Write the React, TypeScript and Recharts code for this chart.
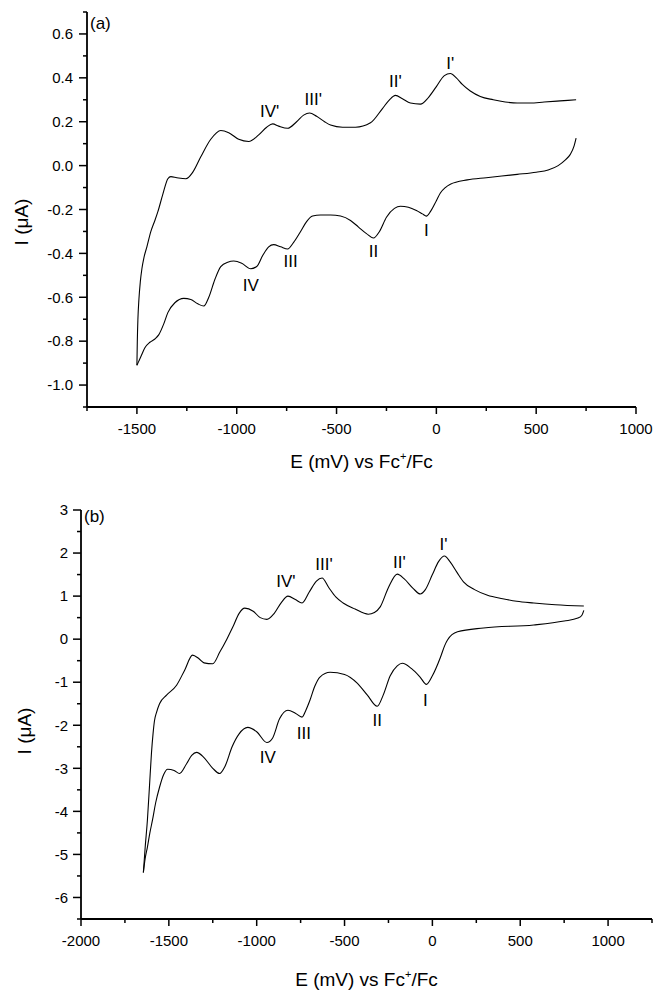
import { LineChart, Line, XAxis, YAxis, ReferenceDot, Label } from 'recharts';

// ---- panel (a) ----
// anodic sweep (upper trace)
const aOxE = [-1500, -1498, -1495, -1490, -1483, -1475, -1465, -1450, -1430, -1410, -1395, -1370, -1345, -1330, -1300, -1255, -1220, -1180, -1130, -1080, -1040, -990, -940, -890, -850, -820, -790, -745, -700, -665, -635, -600, -560, -530, -470, -405, -330, -270, -235, -205, -170, -130, -80, -40, 0, 40, 70, 100, 130, 170, 220, 285, 345, 405, 470, 540, 620, 700];
const aOxI = [-0.91, -0.8, -0.7, -0.61, -0.53, -0.47, -0.42, -0.37, -0.3, -0.25, -0.21, -0.13, -0.06, -0.05, -0.055, -0.06, -0.03, 0.04, 0.12, 0.16, 0.15, 0.12, 0.11, 0.14, 0.175, 0.19, 0.18, 0.17, 0.2, 0.23, 0.24, 0.225, 0.2, 0.185, 0.175, 0.175, 0.195, 0.26, 0.3, 0.32, 0.305, 0.285, 0.28, 0.31, 0.36, 0.41, 0.42, 0.4, 0.37, 0.34, 0.315, 0.3, 0.29, 0.285, 0.285, 0.29, 0.295, 0.3];
// cathodic sweep (lower trace)
const aRedE = [-1500, -1490, -1480, -1460, -1435, -1410, -1390, -1365, -1345, -1310, -1265, -1230, -1195, -1165, -1140, -1110, -1080, -1045, -1015, -975, -930, -900, -870, -840, -815, -780, -745, -715, -680, -650, -620, -580, -530, -480, -430, -390, -350, -315, -285, -250, -210, -180, -140, -100, -70, -50, -30, 0, 20, 45, 70, 155, 250, 405, 500, 560, 610, 645, 670, 690, 700];
const aRedI = [-0.91, -0.89, -0.87, -0.83, -0.805, -0.79, -0.77, -0.72, -0.67, -0.625, -0.605, -0.61, -0.63, -0.64, -0.6, -0.52, -0.46, -0.44, -0.435, -0.445, -0.47, -0.46, -0.41, -0.37, -0.36, -0.37, -0.38, -0.35, -0.3, -0.255, -0.23, -0.225, -0.225, -0.23, -0.25, -0.28, -0.31, -0.33, -0.3, -0.235, -0.195, -0.185, -0.19, -0.205, -0.22, -0.23, -0.21, -0.16, -0.125, -0.1, -0.085, -0.065, -0.055, -0.04, -0.03, -0.02, 0.0, 0.025, 0.05, 0.09, 0.125];

const aXTicks = [-1750, -1500, -1250, -1000, -750, -500, -250, 0, 250, 500, 750, 1000];
const aYTicks = [-1.1, -1.0, -0.9, -0.8, -0.7, -0.6, -0.5, -0.4, -0.3, -0.2, -0.1, 0.0, 0.1, 0.2, 0.3, 0.4, 0.5, 0.6, 0.7];
const aPeaks = ["IV'", "III'", "II'", "I'", 'I', 'II', 'III', 'IV'];
const aPeakE = [-835, -617, -205, 70, -50, -315, -730, -930];
const aPeakI = [0.25, 0.305, 0.386, 0.47, -0.295, -0.39, -0.435, -0.545];

// ---- panel (b) ----
const bOxE = [-1645, -1635, -1622, -1610, -1599, -1590, -1582, -1570, -1553, -1513, -1456, -1410, -1365, -1330, -1300, -1250, -1210, -1170, -1136, -1100, -1068, -1020, -980, -942, -900, -860, -822, -780, -742, -700, -660, -628, -590, -550, -508, -440, -365, -330, -297, -250, -200, -160, -110, -69, -40, 0, 35, 69, 100, 140, 177, 240, 314, 400, 480, 577, 700, 862];
const bOxI = [-5.42, -4.85, -4.2, -3.4, -2.65, -2.2, -1.9, -1.7, -1.5, -1.3, -1.07, -0.72, -0.37, -0.45, -0.55, -0.57, -0.3, 0.0, 0.28, 0.6, 0.72, 0.65, 0.5, 0.46, 0.6, 0.85, 1.0, 0.92, 0.84, 1.1, 1.35, 1.42, 1.2, 0.98, 0.84, 0.7, 0.58, 0.62, 0.75, 1.2, 1.51, 1.4, 1.18, 1.05, 1.15, 1.5, 1.8, 1.93, 1.8, 1.55, 1.33, 1.15, 1.02, 0.94, 0.88, 0.84, 0.8, 0.77];
const bRedE = [-1645, -1635, -1622, -1608, -1593, -1575, -1553, -1530, -1507, -1470, -1439, -1400, -1370, -1342, -1300, -1250, -1211, -1180, -1140, -1100, -1051, -1000, -942, -910, -870, -822, -780, -742, -720, -697, -670, -640, -582, -500, -428, -370, -314, -280, -240, -200, -171, -120, -70, -34, 0, 46, 70, 86, 143, 291, 577, 750, 828, 850, 862];
const bRedI = [-5.42, -5.1, -4.83, -4.5, -4.2, -3.8, -3.44, -3.15, -3.02, -3.05, -3.12, -2.9, -2.7, -2.63, -2.75, -3.0, -3.12, -2.95, -2.5, -2.2, -2.05, -2.15, -2.4, -2.3, -1.85, -1.65, -1.72, -1.81, -1.65, -1.42, -1.1, -0.88, -0.77, -0.82, -1.02, -1.3, -1.56, -1.3, -0.85, -0.62, -0.56, -0.68, -0.88, -1.05, -0.85, -0.42, -0.15, -0.02, 0.17, 0.26, 0.33, 0.42, 0.49, 0.55, 0.67];

const bXTicks = [-2000, -1750, -1500, -1250, -1000, -750, -500, -250, 0, 250, 500, 750, 1000, 1250];
const bYTicks = [-6.5, -6, -5.5, -5, -4.5, -4, -3.5, -3, -2.5, -2, -1.5, -1, -0.5, 0, 0.5, 1, 1.5, 2, 2.5, 3];
const bPeaks = ["IV'", "III'", "II'", "I'", 'I', 'II', 'III', 'IV'];
const bPeakE = [-834, -617, -188, 63, -40, -314, -731, -937];
const bPeakI = [1.35, 1.74, 1.79, 2.21, -1.42, -1.88, -2.19, -2.74];

const zip = (e: number[], i: number[]) => e.map((v, k) => ({ E: v, I: i[k] }));

const XTick = (props: any) => {
  const { x, y, payload } = props;
  const v = payload.value;
  const major = Math.round(v) % 500 === 0;
  return (
    <g>
      <line x1={x} y1={y} x2={x} y2={y + (major ? 7 : 4)} stroke="#000" strokeWidth={1.5} />
      {major && (
        <text x={x} y={y + 27} textAnchor="middle" fontSize={15} fill="#000">
          {v}
        </text>
      )}
    </g>
  );
};

const YTick = (props: any) => {
  const { x, y, payload, isMajor, fmt, gap } = props;
  const v = payload.value;
  const major = isMajor(v);
  return (
    <g>
      <line x1={x - (major ? 8 : 4)} y1={y} x2={x} y2={y} stroke="#000" strokeWidth={1.5} />
      {major && (
        <text x={x - gap} y={y} dy="0.35em" textAnchor="end" fontSize={15} fill="#000">
          {fmt(v)}
        </text>
      )}
    </g>
  );
};

const XTitle = ({ viewBox, dy }: any) => (
  <text x={viewBox.x + viewBox.width / 2} y={viewBox.y + dy} textAnchor="middle" fontSize={19} fill="#000">
    E (mV) vs Fc
    <tspan fontSize={11} dy={-8}>+</tspan>
    <tspan dy={8}>/Fc</tspan>
  </text>
);

const YTitle = ({ cx, cy }: any) => (
  <text x={cx} y={cy} transform={`rotate(-90, ${cx}, ${cy})`} textAnchor="middle" dominantBaseline="central" fontSize={19} fill="#000">
    I (μA)
  </text>
);

const axisStyle = { stroke: '#000', strokeWidth: 1.8 };

function Panel(props: any) {
  const { ox, red, xDomain, yDomain, xTicks, yTicks, isMajor, fmt, gap, peaks, peakE, peakI, width, height, margin, yWidth, xHeight, xTitleDy, yTitleX, yTitleY } = props;
  return (
    <LineChart width={width} height={height} margin={margin}>
      <XAxis
        dataKey="E"
        type="number"
        domain={xDomain}
        ticks={xTicks}
        interval={0}
        allowDataOverflow
        height={xHeight}
        tickSize={0}
        tickMargin={0}
        tickLine={false}
        axisLine={axisStyle}
        tick={<XTick />}
      >
        <Label content={(p: any) => <XTitle viewBox={p.viewBox} dy={xTitleDy} />} />
      </XAxis>
      <YAxis
        type="number"
        domain={yDomain}
        ticks={yTicks}
        interval={0}
        allowDataOverflow
        width={yWidth}
        tickSize={0}
        tickMargin={0}
        tickLine={false}
        axisLine={axisStyle}
        tick={(p: any) => <YTick {...p} isMajor={isMajor} fmt={fmt} gap={gap} />}
      >
        <Label content={() => <YTitle cx={yTitleX} cy={yTitleY} />} />
      </YAxis>
      <Line data={ox} dataKey="I" type="monotone" stroke="#000" strokeWidth={1.1} dot={false} isAnimationActive={false} />
      <Line data={red} dataKey="I" type="monotone" stroke="#000" strokeWidth={1.1} dot={false} isAnimationActive={false} />
      {peaks.map((t: string, k: number) => (
        <ReferenceDot
          key={t}
          x={peakE[k]}
          y={peakI[k]}
          r={0}
          fill="none"
          stroke="none"
          label={{ value: t, position: 'center', fontSize: 17, fill: '#000' }}
        />
      ))}
    </LineChart>
  );
}

export default function App() {
  return (
    <div
      style={{
        position: 'absolute',
        left: 0,
        top: 0,
        width: 655,
        height: 990,
        background: '#fff',
        fontFamily: '"Liberation Sans", Arial, sans-serif',
      }}
    >
      <div style={{ position: 'relative', width: 655, height: 490 }}>
        <Panel
          ox={zip(aOxE, aOxI)}
          red={zip(aRedE, aRedI)}
          xDomain={[-1750, 1000]}
          yDomain={[-1.1, 0.7]}
          xTicks={aXTicks}
          yTicks={aYTicks}
          isMajor={(v: number) => Math.round(v * 10) % 2 === 0}
          fmt={(v: number) => v.toFixed(1)}
          gap={14}
          peaks={aPeaks}
          peakE={aPeakE}
          peakI={aPeakI}
          width={655}
          height={490}
          margin={{ top: 12, right: 19, bottom: 0, left: 0 }}
          yWidth={87}
          xHeight={83}
          xTitleDy={61}
          yTitleX={21}
          yTitleY={222}
        />
        <span style={{ position: 'absolute', left: 90, top: 14, fontSize: 17 }}>(a)</span>
      </div>
      <div style={{ position: 'relative', width: 655, height: 500 }}>
        <Panel
          ox={zip(bOxE, bOxI)}
          red={zip(bRedE, bRedI)}
          xDomain={[-2000, 1250]}
          yDomain={[-6.5, 3]}
          xTicks={bXTicks}
          yTicks={bYTicks}
          isMajor={(v: number) => Math.round(v * 2) % 2 === 0}
          fmt={(v: number) => String(v)}
          gap={13}
          peaks={bPeaks}
          peakE={bPeakE}
          peakI={bPeakI}
          width={655}
          height={500}
          margin={{ top: 20, right: 3, bottom: 0, left: 0 }}
          yWidth={81}
          xHeight={71}
          xTitleDy={67}
          yTitleX={24}
          yTitleY={241}
        />
        <span style={{ position: 'absolute', left: 84, top: 17, fontSize: 17 }}>(b)</span>
      </div>
    </div>
  );
}
